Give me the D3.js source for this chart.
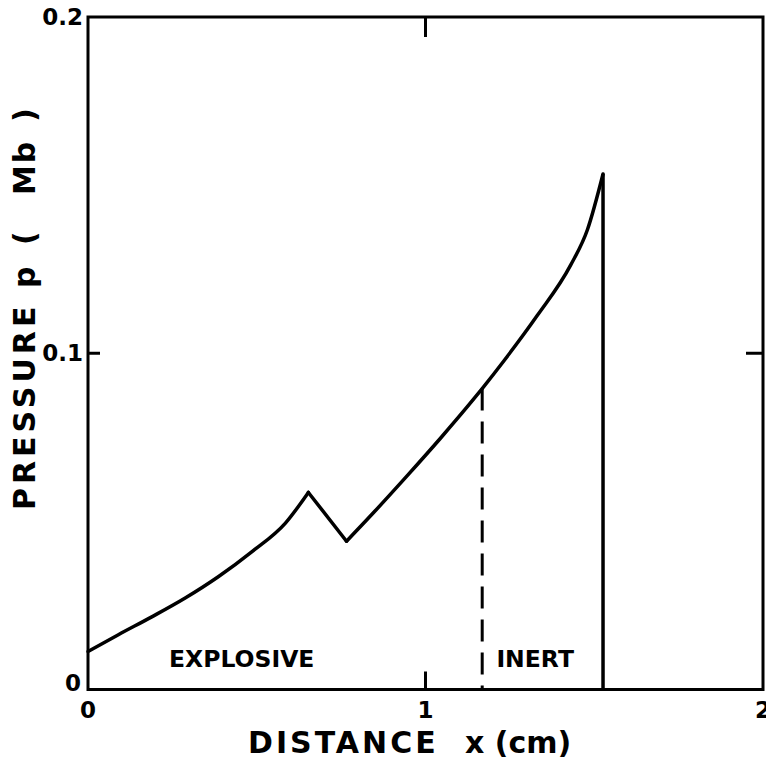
<!DOCTYPE html>
<html>
<head>
<meta charset="utf-8">
<script src="https://cdn.jsdelivr.net/npm/d3@7/dist/d3.min.js"></script>
<style>
  html, body { margin: 0; padding: 0; background: #fff; }
  svg { display: block; }
  text { font-family: "DejaVu Sans", "Liberation Sans", Arial, sans-serif; font-weight: bold; fill: #000; white-space: pre; }
</style>
</head>
<body>
<script>
// ---- data ----
const explosiveX = [0, 0.09, 0.189, 0.288, 0.387, 0.486, 0.585, 0.653];
const explosiveP = [0.0113, 0.0163, 0.0216, 0.0272, 0.0336, 0.0410, 0.0495, 0.0586];
const afterX = [0.766, 0.847, 0.946, 1.045, 1.143, 1.168, 1.232, 1.331, 1.430, 1.480, 1.526];
const afterP = [0.0441, 0.0527, 0.0636, 0.0748, 0.0864, 0.0895, 0.0977, 0.1112, 0.1262, 0.1368, 0.1533];
const interfaceX = 1.168;   // explosive / inert boundary (dashed)
const shockX = 1.526;       // shock front (solid vertical)
const xTicks = [0, 1, 2];
const xTickLabels = ["0", "1", "2"];
const yTicks = [0, 0.1, 0.2];
const yTickLabels = ["0", "0.1", "0.2"];
const regionLabels = ["EXPLOSIVE", "INERT"];
const regionLabelX = [0.24, 1.21];
const yTitleParts = ["PRESSURE", "p", "(", "Mb", ")"];

const W = 766, H = 774;
const svg = d3.select("body").append("svg").attr("width", W).attr("height", H);

const x = d3.scaleLinear().domain([0, 2]).range([88, 763]);
const y = d3.scaleLinear().domain([0, 0.2]).range([689.5, 17]);

// frame
svg.append("rect")
  .attr("x", x(0)).attr("y", y(0.2))
  .attr("width", x(2) - x(0)).attr("height", y(0) - y(0.2))
  .attr("fill", "none").attr("stroke", "#000").attr("stroke-width", 3);

// tick marks
const tk = svg.append("g").attr("stroke", "#000").attr("stroke-width", 3);
tk.append("line").attr("x1", x(1)).attr("x2", x(1)).attr("y1", y(0)).attr("y2", y(0) - 18);
tk.append("line").attr("x1", x(1)).attr("x2", x(1)).attr("y1", y(0.2)).attr("y2", y(0.2) + 20);
tk.append("line").attr("x1", x(0)).attr("x2", x(0) + 12).attr("y1", y(0.1)).attr("y2", y(0.1));
tk.append("line").attr("x1", x(2)).attr("x2", x(2) - 17).attr("y1", y(0.1)).attr("y2", y(0.1));

// tick labels
svg.append("g").selectAll("text").data(xTicks).join("text")
  .attr("x", d => x(d)).attr("y", y(0) + 28)
  .attr("text-anchor", "middle").attr("font-size", 23)
  .text((d, i) => xTickLabels[i]);

svg.append("g").selectAll("text").data(yTicks).join("text")
  .attr("x", d => d === 0 ? x(0) - 7 : x(0) - 5)
  .attr("y", d => d === 0 ? y(d) + 1 : y(d) + 8)
  .attr("text-anchor", "end").attr("font-size", 23)
  .text((d, i) => yTickLabels[i]);

// curve
const smooth = d3.line().x(d => x(d[0])).y(d => y(d[1])).curve(d3.curveMonotoneX);
const straight = d3.line().x(d => x(d[0])).y(d => y(d[1]));
const expPts = explosiveX.map((d, i) => [d, explosiveP[i]]);
const aftPts = afterX.map((d, i) => [d, afterP[i]]);
const curveStyle = s => s.attr("fill", "none").attr("stroke", "#000").attr("stroke-width", 3.5)
  .attr("stroke-linejoin", "round").attr("stroke-linecap", "round");
svg.append("path").attr("d", smooth(expPts)).call(curveStyle);
svg.append("path").attr("d", straight([expPts[expPts.length - 1], aftPts[0]])).call(curveStyle);
svg.append("path").attr("d", smooth(aftPts)).call(curveStyle);

// shock front
svg.append("line")
  .attr("x1", x(shockX)).attr("x2", x(shockX))
  .attr("y1", y(afterP[afterP.length - 1])).attr("y2", y(0))
  .attr("stroke", "#000").attr("stroke-width", 3.5);

// interface (dashed)
const iP = afterP[afterX.indexOf(interfaceX)];
svg.append("line")
  .attr("x1", x(interfaceX)).attr("x2", x(interfaceX))
  .attr("y1", y(iP)).attr("y2", y(0))
  .attr("stroke", "#000").attr("stroke-width", 3).attr("stroke-dasharray", "22,11");

// region labels
svg.append("g").selectAll("text").data(regionLabels).join("text")
  .attr("x", (d, i) => x(regionLabelX[i])).attr("y", 667)
  .attr("font-size", 23.5)
  .text(d => d);

// axis titles
svg.append("text")
  .attr("x", 248).attr("y", 753)
  .attr("font-size", 30).attr("letter-spacing", 3)
  .text("DISTANCE");
svg.append("text")
  .attr("x", 465).attr("y", 753)
  .attr("font-size", 30)
  .text("x (cm)");

const yTitlePos = [510, 288, 245, 195, 122];
const yt = svg.append("g").attr("transform", "translate(35,0) rotate(-90)");
yt.selectAll("text").data(yTitleParts).join("text")
  .attr("x", (d, i) => -yTitlePos[i])
  .attr("font-size", 30)
  .attr("letter-spacing", (d, i) => i === 0 ? 4 : 2)
  .text(d => d);
</script>
</body>
</html>
